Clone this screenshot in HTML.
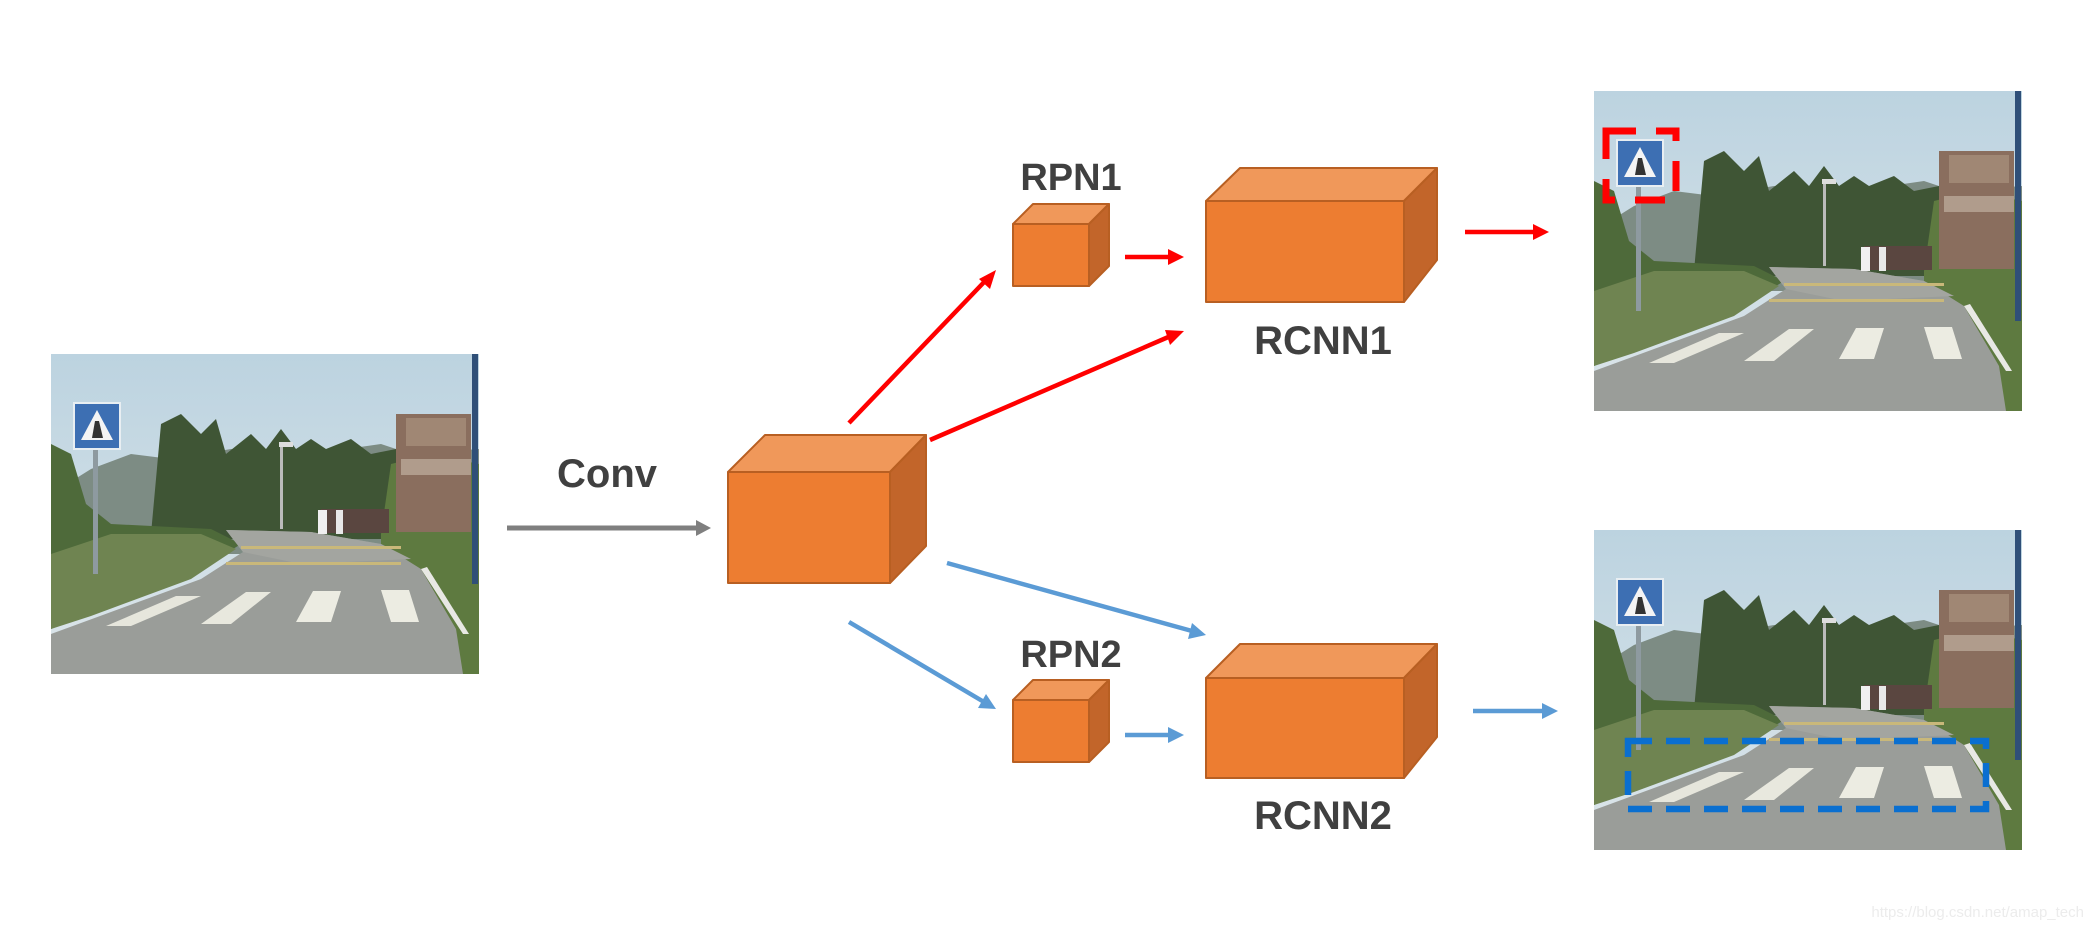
<!DOCTYPE html>
<html><head><meta charset="utf-8"><style>
html,body{margin:0;padding:0;background:#fff;}
svg{display:block;}
</style></head><body>
<svg width="2092" height="930" viewBox="0 0 2092 930" xmlns="http://www.w3.org/2000/svg">
<defs>
<linearGradient id="sky" x1="0" y1="0" x2="0" y2="1">
<stop offset="0" stop-color="#bcd3e0"/><stop offset="1" stop-color="#dde6ea"/>
</linearGradient>
<g id="photo">
<rect x="0" y="0" width="428" height="320" fill="url(#sky)"/>
<path d="M0 140 L40 115 L80 100 L120 105 L180 95 L260 100 L330 90 L360 100 L428 95 L428 200 L0 200 Z" fill="#7d8c84"/>
<path d="M100 180 L110 70 L130 60 L150 80 L165 65 L175 100 L200 80 L215 95 L230 75 L245 95 L260 85 L275 95 L300 85 L320 100 L345 95 L360 130 L360 185 L100 185 Z" fill="#3f5535"/>
<path d="M330 180 L340 110 L380 100 L428 110 L428 320 L330 320 Z" fill="#5e7a40"/>
<path d="M0 90 L20 100 L35 150 L60 170 L160 175 L190 190 L150 215 L60 250 L0 275 Z" fill="#4e6a3a"/>
<path d="M0 200 L60 180 L150 180 L185 195 L140 225 L40 262 L0 275 Z" fill="#6f8451"/>
<path d="M0 280 L60 258 L150 225 L192 198 L175 176 L260 178 L330 190 L370 215 L405 275 L412 320 L0 320 Z" fill="#9a9d99"/>
<path d="M192 198 L175 176 L260 178 L330 190 L360 205 L250 210 Z" fill="#a3a5a0"/>
<rect x="190" y="192" width="160" height="3" fill="#c9b87a"/>
<rect x="175" y="208" width="175" height="3" fill="#c9b87a"/>
<path d="M370 215 L412 280 L418 280 L376 213 Z" fill="#e8e8e4"/>
<path d="M55 272 L80 272 L150 242 L125 242 Z" fill="#e6e6dc"/>
<path d="M150 270 L180 270 L220 238 L195 238 Z" fill="#e8e8de"/>
<path d="M245 268 L280 268 L290 237 L262 237 Z" fill="#ececE2"/>
<path d="M330 236 L358 236 L368 268 L340 268 Z" fill="#ececE2"/>
<rect x="270" y="155" width="68" height="24" fill="#5a4640"/>
<rect x="267" y="156" width="9" height="24" fill="#f0f0f0"/>
<rect x="285" y="156" width="7" height="24" fill="#e8e8e8"/>
<rect x="345" y="60" width="75" height="118" fill="#8a6e5e"/>
<rect x="355" y="64" width="60" height="28" fill="#a08774"/>
<rect x="350" y="105" width="70" height="16" fill="#b09c8c"/>
<rect x="229" y="90" width="3" height="85" fill="#bbbbbb"/>
<rect x="228" y="88" width="14" height="5" fill="#dddddd"/>
<rect x="42" y="90" width="5" height="130" fill="#8e9aa0"/>
<rect x="22" y="48" width="48" height="48" fill="#e8eef2"/>
<rect x="24" y="50" width="44" height="44" fill="#3d6fb3"/>
<path d="M46 56 L62 86 L30 86 Z" fill="#f4f4f4"/>
<path d="M44 67 L48 67 L52 84 L41 84 Z" fill="#333"/>
<rect x="421" y="0" width="6" height="230" fill="#2f4f78"/>
</g>
</defs>

<use href="#photo" transform="translate(51,354)"/>
<use href="#photo" transform="translate(1594,91)"/>
<use href="#photo" transform="translate(1594,530)"/>

<rect x="1606" y="131" width="70" height="69" fill="none" stroke="#ff0000" stroke-width="7" stroke-dasharray="30 20"/>
<rect x="1628" y="741" width="358" height="68" fill="none" stroke="#0a6fd0" stroke-width="6.5" stroke-dasharray="24 14"/>

<line x1="507" y1="528" x2="698" y2="528" stroke="#7f7f7f" stroke-width="5"/>
<path d="M696 520 L711 528 L696 536 Z" fill="#7f7f7f"/>
<text x="607" y="487" font-family="Liberation Sans, sans-serif" font-weight="bold" font-size="40" fill="#404040" text-anchor="middle">Conv</text>

<g stroke="#b85f22" stroke-width="2" stroke-linejoin="round">
<path d="M728 472 L765 435 L926 435 L890 472 Z" fill="#f0985a"/>
<path d="M890 472 L926 435 L926 546 L890 583 Z" fill="#c2652a"/>
<rect x="728" y="472" width="162" height="111" fill="#ed7d31"/>
<path d="M1013 224 L1033 204 L1109 204 L1089 224 Z" fill="#f0985a"/>
<path d="M1089 224 L1109 204 L1109 266 L1089 286 Z" fill="#c2652a"/>
<rect x="1013" y="224" width="76" height="62" fill="#ed7d31"/>
<path d="M1013 700 L1033 680 L1109 680 L1089 700 Z" fill="#f0985a"/>
<path d="M1089 700 L1109 680 L1109 742 L1089 762 Z" fill="#c2652a"/>
<rect x="1013" y="700" width="76" height="62" fill="#ed7d31"/>
<path d="M1206 201 L1240 168 L1437 168 L1404 201 Z" fill="#f0985a"/>
<path d="M1404 201 L1437 168 L1437 260 L1404 302 Z" fill="#c2652a"/>
<rect x="1206" y="201" width="198" height="101" fill="#ed7d31"/>
<path d="M1206 678 L1240 644 L1437 644 L1404 678 Z" fill="#f0985a"/>
<path d="M1404 678 L1437 644 L1437 737 L1404 778 Z" fill="#c2652a"/>
<rect x="1206" y="678" width="198" height="100" fill="#ed7d31"/>
</g>

<g font-family="Liberation Sans, sans-serif" font-weight="bold" fill="#404040" text-anchor="middle">
<text x="1071" y="190" font-size="38">RPN1</text>
<text x="1071" y="667" font-size="38">RPN2</text>
<text x="1323" y="354" font-size="40">RCNN1</text>
<text x="1323" y="829" font-size="40">RCNN2</text>
</g>

<g stroke="#ff0000" stroke-width="4.5" fill="none">
<line x1="849" y1="423" x2="988" y2="278"/>
<line x1="930" y1="440" x2="1173" y2="335"/>
<line x1="1125" y1="257" x2="1170" y2="257"/>
<line x1="1465" y1="232" x2="1535" y2="232"/>
</g>
<g fill="#ff0000">
<path d="M996 270 L990 289 L979 279 Z"/>
<path d="M1184 331 L1170 345 L1165 330 Z"/>
<path d="M1184 257 L1168 249 L1168 265 Z"/>
<path d="M1549 232 L1533 224 L1533 240 Z"/>
</g>

<g stroke="#5b9bd5" stroke-width="4.5" fill="none">
<line x1="947" y1="563" x2="1192" y2="631"/>
<line x1="849" y1="622" x2="984" y2="702"/>
<line x1="1125" y1="735" x2="1170" y2="735"/>
<line x1="1473" y1="711" x2="1544" y2="711"/>
</g>
<g fill="#5b9bd5">
<path d="M1206 635 L1188 639 L1192 623 Z"/>
<path d="M996 709 L978 708 L986 694 Z"/>
<path d="M1184 735 L1168 727 L1168 743 Z"/>
<path d="M1558 711 L1542 703 L1542 719 Z"/>
</g>

<text x="2084" y="917" font-family="Liberation Sans, sans-serif" font-size="15" fill="#ececec" text-anchor="end">https://blog.csdn.net/amap_tech</text>
</svg>
</body></html>
